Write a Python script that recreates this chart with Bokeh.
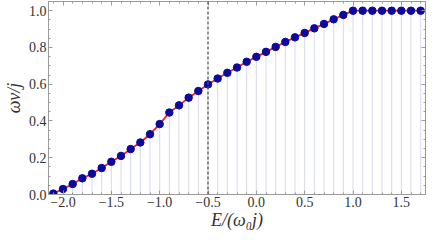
from bokeh.plotting import figure
from bokeh.models import (Span, LinearAxis, Range1d, SingleIntervalTicker,
                          CustomJSTickFormatter, ColumnDataSource)
from bokeh.embed import file_html
from bokeh.resources import INLINE

# ---- data ----
energies = [-2.1, -2.0, -1.9, -1.8, -1.7, -1.6, -1.5, -1.4, -1.3, -1.2,
            -1.1, -1.0, -0.9, -0.8, -0.7, -0.6, -0.5, -0.4, -0.3, -0.2,
            -0.1, 0.0, 0.1, 0.2, 0.3, 0.4, 0.5, 0.6, 0.7, 0.8,
            0.9, 1.0, 1.1, 1.2, 1.3, 1.4, 1.5, 1.6, 1.7]
fraction = [0.005, 0.030, 0.057, 0.088, 0.113, 0.144, 0.178, 0.210, 0.247, 0.283,
            0.328, 0.383, 0.446, 0.485, 0.527, 0.563, 0.599, 0.631, 0.662, 0.691,
            0.722, 0.749, 0.776, 0.803, 0.830, 0.855, 0.879, 0.904, 0.928, 0.953,
            0.977, 1.0, 1.0, 1.0, 1.0, 1.0, 1.0, 1.0, 1.0]
marker_energy = -0.5
x_start, x_end = -2.15, 1.75
y_start, y_end = 0.0, 1.05

FONT = "Liberation Serif"
FRAME = "#9a9a9a"
LABEL = "#333333"

p = figure(width=428, height=232, x_range=Range1d(x_start, x_end),
           y_range=Range1d(y_start, y_end), output_backend="svg",
           toolbar_location=None, min_border_left=38, min_border_right=3,
           min_border_top=1, min_border_bottom=30)
p.background_fill_color = "white"
p.border_fill_color = "white"
p.outline_line_color = FRAME
p.xgrid.grid_line_color = None
p.ygrid.grid_line_color = None

fmt = CustomJSTickFormatter(code="return tick.toFixed(1).replace('-', '\u2212');")
blank = CustomJSTickFormatter(code="return '';")

def style(ax, ticker, formatter):
    ax.ticker = ticker
    ax.formatter = formatter
    ax.axis_line_color = FRAME
    ax.major_tick_line_color = FRAME
    ax.minor_tick_line_color = FRAME
    ax.major_tick_in = 4
    ax.major_tick_out = 0
    ax.minor_tick_in = 2
    ax.minor_tick_out = 0
    ax.major_label_text_font = FONT
    ax.major_label_text_font_size = "14px"
    ax.major_label_text_color = LABEL
    ax.major_label_standoff = 2
    ax.axis_label_text_font = FONT
    ax.axis_label_text_font_style = "italic"
    ax.axis_label_text_font_size = "18px"
    ax.axis_label_text_color = LABEL
    ax.axis_label_standoff = 0

xt = lambda: SingleIntervalTicker(interval=0.5, num_minor_ticks=5)
yt = lambda: SingleIntervalTicker(interval=0.2, num_minor_ticks=4)

style(p.xaxis[0], xt(), fmt)
style(p.yaxis[0], yt(), fmt)
p.xaxis[0].axis_label = "E/(ω₀j)"
p.yaxis[0].axis_label = "ων/j"
p.yaxis[0].axis_label_standoff = 2

top = LinearAxis()
style(top, xt(), blank)
top.major_label_standoff = 0
p.add_layout(top, "above")
right = LinearAxis()
style(right, yt(), blank)
right.major_label_standoff = 0
p.add_layout(right, "right")

src = ColumnDataSource(dict(x=energies, y=fraction, base=[y_start] * len(energies)))

# stems to axis
p.segment(x0="x", y0="base", x1="x", y1="y", source=src,
          line_color="#d9d9f2", line_width=1)

# dashed marker
p.add_layout(Span(location=marker_energy, dimension="height",
                  line_color="#555555", line_dash="3 2", line_width=1.3))

# red curve, continuing to the frame edge on the plateau
p.line(energies + [x_end], fraction + [fraction[-1]],
       line_color="#ff1a1a", line_width=1.8)

# points
p.scatter("x", "y", source=src, size=7.5, fill_color="#0a0a9e",
          line_color="#0a0a9e")

open("out.html", "w").write(file_html(p, INLINE))
